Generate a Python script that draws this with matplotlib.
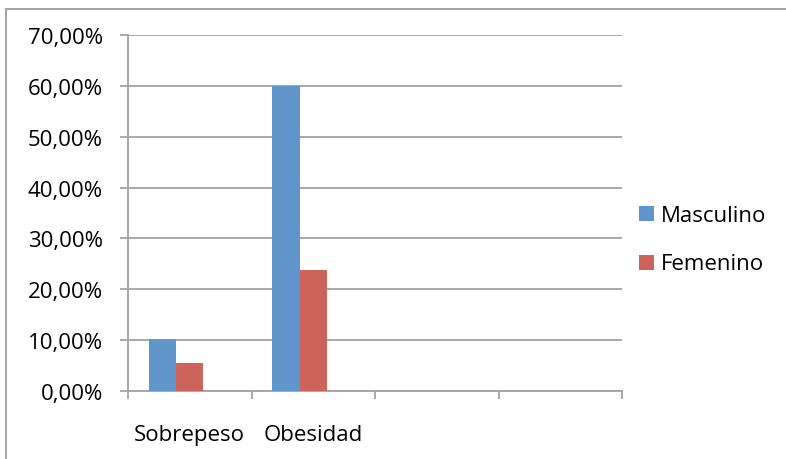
import numpy as np
import matplotlib.pyplot as plt
from matplotlib.patches import Rectangle

plt.rcParams['font.family'] = ['Open Sans', 'DejaVu Sans']

categorias = ["Sobrepeso", "Obesidad", "", ""]
masculino = [10.3, 60.0, 0, 0]
femenino = [5.5, 23.8, 0, 0]
series = ["Masculino", "Femenino"]
yticks = [0, 10, 20, 30, 40, 50, 60, 70]

azul = "#6096cb"
rojo = "#cc645c"
gris = "#a3a3a3"
W, H = 786, 460

fig = plt.figure(figsize=(W/100, H/100), dpi=100)
ax = fig.add_axes([128/W, 1-392/H, (622-128)/W, (392-36)/H])

# borde exterior del grafico
fig.patches.append(Rectangle((6/W, -0.1), 1.2, (H-10)/H + 0.1, transform=fig.transFigure,
                             fill=False, edgecolor=gris, linewidth=1.4))

x = np.arange(len(categorias))
w = 0.222
ax.bar(x - w, masculino, w, color=azul, zorder=3)
ax.bar(x, femenino, w, color=rojo, zorder=3)

ax.set_xlim(-0.5, len(categorias) - 0.5)
ax.set_ylim(0, 70)
ax.set_yticks(yticks)
ax.set_yticklabels([f"{v},00%" for v in yticks], fontsize=16)
ax.yaxis.grid(True, color=gris, linewidth=1.3, zorder=0)
ax.tick_params(axis='y', length=6, width=1.3, color=gris, pad=12)

ax.set_xticks(x)
ax.set_xticklabels(categorias, fontsize=16)
ax.set_xticks(np.arange(len(categorias) + 1) - 0.5, minor=True)
ax.tick_params(axis='x', which='major', length=0, pad=24)
ax.tick_params(axis='x', which='minor', length=6, width=1.3, color=gris)

for s in ['top', 'right']:
    ax.spines[s].set_visible(False)
for s in ['left', 'bottom']:
    ax.spines[s].set_color(gris)
    ax.spines[s].set_linewidth(1.3)

# leyenda
for i, (nombre, color) in enumerate(zip(series, [azul, rojo])):
    yc = 214.5 + i * 48.5
    fig.patches.append(Rectangle((639/W, 1-(yc+7.5)/H), 15/W, 15/H, transform=fig.transFigure,
                                 facecolor=color, edgecolor='none'))
    fig.text(661/W, 1-(yc+2)/H, nombre, fontsize=16, va='center', ha='left')

fig.savefig("out.png", dpi=100)
